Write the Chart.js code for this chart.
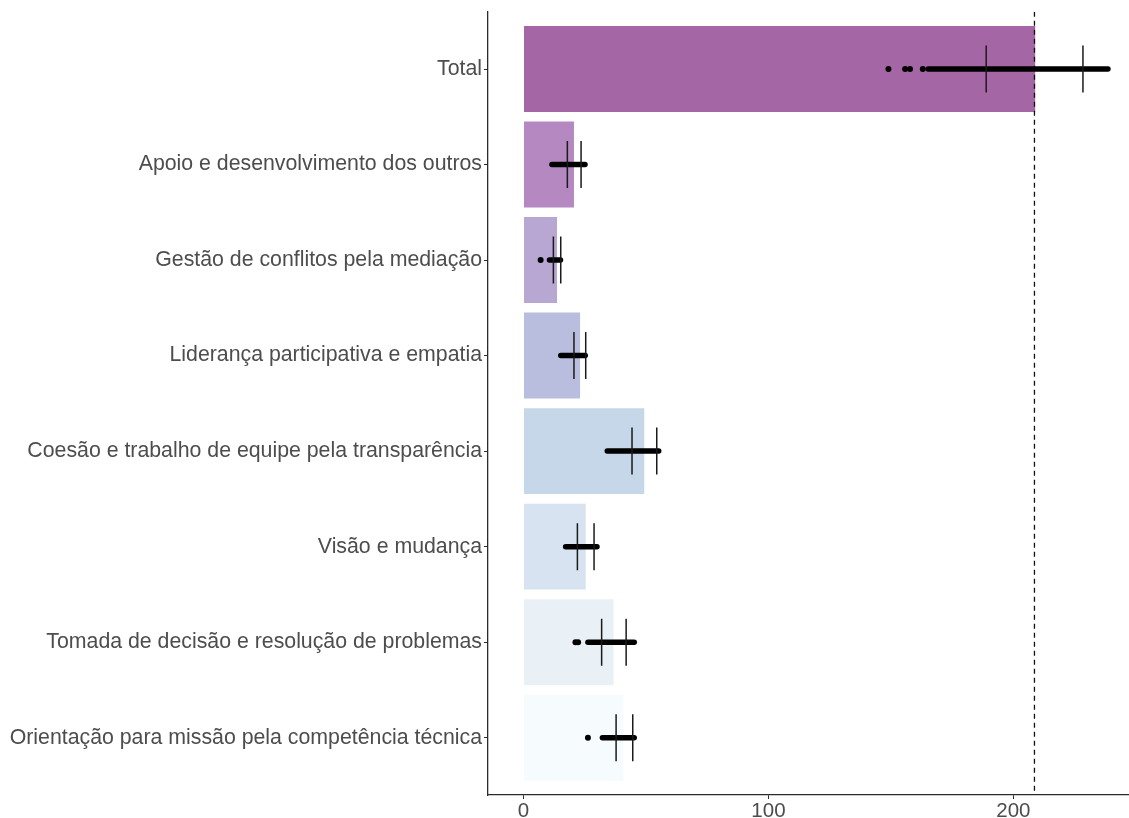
<!DOCTYPE html>
<html>
<head>
<meta charset="utf-8">
<title>Competências</title>
<script src="https://cdn.jsdelivr.net/npm/chart.js@4.4.1/dist/chart.umd.min.js"></script>
<style>
  html, body { margin: 0; padding: 0; background: #fff; overflow: hidden; }
  #wrap { position: relative; width: 1129px; height: 818px; }
  canvas { display: block; }
</style>
</head>
<body>
<div id="wrap"><canvas id="scoreChart"></canvas></div>
<script>
// ── Data ─────────────────────────────────────────────────────
const categories = [
    'Total',
    'Apoio e desenvolvimento dos outros',
    'Gestão de conflitos pela mediação',
    'Liderança participativa e empatia',
    'Coesão e trabalho de equipe pela transparência',
    'Visão e mudança',
    'Tomada de decisão e resolução de problemas',
    'Orientação para missão pela competência técnica',
];
const barValues  = [208.9, 20.6, 13.7, 23.1, 49.3, 25.4, 36.8, 40.8];
const barColors  = ['#a566a5', '#b588c1', '#b8a6d3', '#b9bedf', '#c5d7e9', '#d7e3f0', '#e9f1f7', '#f6fbfd'];

// vertical marks (two per row)
const lowMarks   = [188.9, 17.9, 12.2, 20.6, 44.3, 22.0, 31.9, 37.8];
const highMarks  = [228.4, 23.5, 15.2, 25.4, 54.4, 28.8, 41.9, 44.6];

// dense runs of observations, drawn as a thick stroke
const runStart   = [165.2, 11.6, 10.6, 15.2, 34.2, 17.2, 26.3, 32.2];
const runEnd     = [238.6, 25.1, 15.1, 25.2, 55.2, 30.0, 45.2, 45.2];

// isolated observations
const looseValues = [149.0, 155.8, 157.8, 163.0, 7.0, 21.2, 22.3, 26.3];
const looseRows   = [0, 0, 0, 0, 2, 6, 6, 7];

const refLine = 208.6;
const xTicks  = [0, 100, 200];

// ── Chart setup ──────────────────────────────────────────────
const textColor = '#4d4d4d';
const axisColor = '#2b2b2b';
const family = "'Liberation Sans', Arial, sans-serif";
const yMin = -0.6, yMax = categories.length - 1 + 0.6;

// drop the label overflow padding so the plot area is set by layout.padding alone
const noPad = s => { s.paddingTop = s.paddingBottom = s.paddingLeft = s.paddingRight = 0; };

const runSets = categories.map((c, i) => ({
    type: 'line',
    data: [{ x: runStart[i], y: i }, { x: runEnd[i], y: i }],
    borderColor: '#000',
    borderWidth: 5.5,
    borderCapStyle: 'round',
    pointRadius: 0,
    tension: 0,
    fill: false,
    order: 3,
}));

const ctx = document.getElementById('scoreChart').getContext('2d');

new Chart(ctx, {
    type: 'bar',
    data: {
    datasets: [
        {
        type: 'bar',
        data: barValues.map((v, i) => ({ x: v, y: i })),
        backgroundColor: barColors,
        borderWidth: 0,
        barPercentage: 0.9,
        categoryPercentage: 1,
        order: 5,
        },
        {
        type: 'line',
        data: [{ x: refLine, y: yMin }, { x: refLine, y: yMax }],
        borderColor: '#111',
        borderWidth: 1.3,
        borderDash: [5, 4],
        pointRadius: 0,
        fill: false,
        order: 4,
        },
        ...runSets,
        {
        type: 'scatter',
        data: looseValues.map((v, i) => ({ x: v, y: looseRows[i] })),
        backgroundColor: '#000',
        borderWidth: 0,
        pointRadius: 3,
        order: 2,
        },
        {
        type: 'scatter',
        data: [
            ...lowMarks.map((v, i) => ({ x: v, y: i })),
            ...highMarks.map((v, i) => ({ x: v, y: i })),
        ],
        pointStyle: 'line',
        rotation: 90,
        pointRadius: 23.5,
        borderColor: '#1a1a1a',
        borderWidth: 1.5,
        order: 1,
        },
    ],
    },
    options: {
    indexAxis: 'y',
    responsive: true,
    maintainAspectRatio: false,
    animation: false,
    layout: { autoPadding: false, padding: { top: 11.7, right: 0, left: 0, bottom: 0 } },
    scales: {
        x: {
        type: 'linear',
        offset: false,
        min: -14.7,
        max: 247.2,
        afterBuildTicks: s => { s.ticks = xTicks.map(v => ({ value: v })); },
        afterFit: s => { s.height = 23; noPad(s); },
        ticks: { color: textColor, font: { family, size: 20.5 }, padding: 0, maxRotation: 0, autoSkip: false },
        grid: { offset: false, drawOnChartArea: false, drawTicks: true, tickLength: 4, color: axisColor },
        border: { display: true, color: axisColor, width: 1.3 },
        },
        y: {
        type: 'linear',
        offset: false,
        reverse: true,
        min: yMin,
        max: yMax,
        afterBuildTicks: s => { s.ticks = categories.map((c, i) => ({ value: i })); },
        afterFit: s => { s.width = 487.5; noPad(s); },
        ticks: {
            color: textColor,
            font: { family, size: 21.3 },
            padding: 2,
            autoSkip: false,
            callback: v => categories[v],
        },
        grid: { offset: false, drawOnChartArea: false, drawTicks: true, tickLength: 3.5, color: axisColor },
        border: { display: true, color: axisColor, width: 1.3 },
        },
    },
    plugins: {
        legend: { display: false },
        tooltip: { enabled: false },
    },
    },
});
</script>
</body>
</html>
